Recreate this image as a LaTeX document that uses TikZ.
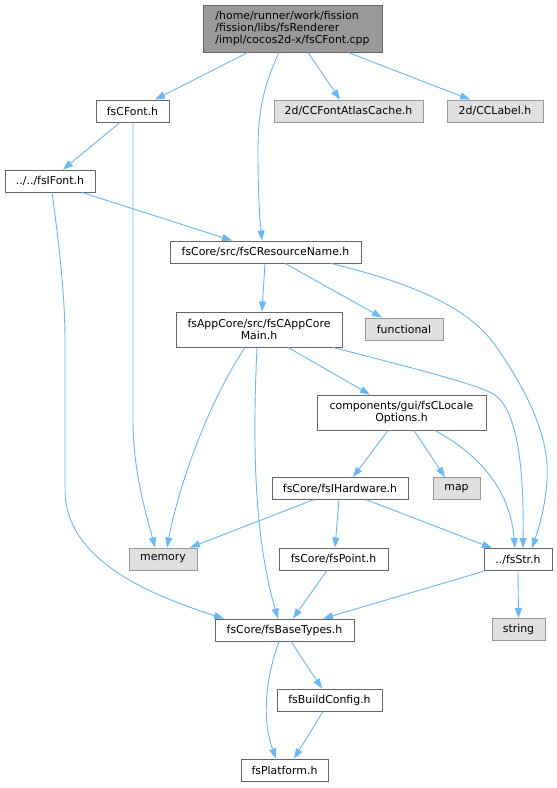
\documentclass[tikz,border=0pt]{standalone}
\usepackage{fontspec}
\setmainfont{DejaVu Sans}
\usetikzlibrary{arrows.meta}
\definecolor{edgeblue}{HTML}{63B8FF}
\definecolor{boxborder}{HTML}{666666}
\definecolor{sysborder}{HTML}{999999}
\definecolor{sysfill}{HTML}{E0E0E0}
\definecolor{rootfill}{HTML}{999999}
\tikzset{
  filebox/.style={draw=boxborder, fill=white, line width=0.9pt, inner sep=0pt,
    minimum height=22pt, align=center, font=\fontsize{10.9}{12}\selectfont},
  sysbox/.style={filebox, draw=sysborder, fill=sysfill},
  rootbox/.style={filebox, fill=rootfill, align=left},
  edge/.style={draw=edgeblue, line width=0.9pt, -{Triangle[length=10pt,width=7pt]}}
}
\begin{document}
\begin{tikzpicture}[x=1pt,y=-1pt]
\useasboundingbox (0,0) rectangle (557,788);
% nodes
\node[rootbox, minimum width=179pt, minimum height=47pt] (root) at (292.5,28.5)
  {/home/runner/work/fission\\/fission/libs/fsRenderer\\/impl/cocos2d-x/fsCFont.cpp};
\node[filebox, minimum width=73pt] (cfont) at (132.5,111) {fsCFont.h};
\node[sysbox, minimum width=149pt] (atlas) at (348.5,111) {2d/CCFontAtlasCache.h};
\node[sysbox, minimum width=96pt] (label) at (495,111) {2d/CCLabel.h};
\node[filebox, minimum width=90pt] (ifont) at (50,181) {../../fsIFont.h};
\node[filebox, minimum width=191pt] (resname) at (265.5,252) {fsCore/src/fsCResourceName.h};
\node[filebox, minimum width=166pt, minimum height=35pt] (appcore) at (259,329.5) {fsAppCore/src/fsCAppCore\\Main.h};
\node[sysbox, minimum width=78pt] (functional) at (404,329) {functional};
\node[filebox, minimum width=169pt, minimum height=35pt] (locale) at (401.5,412.5) {components/gui/fsCLocale\\Options.h};
\node[filebox, minimum width=136pt] (hardware) at (340,488.5) {fsCore/fsIHardware.h};
\node[sysbox, minimum width=47pt] (map) at (456.5,488.5) {map};
\node[sysbox, minimum width=68pt] (memory) at (163,559) {memory};
\node[filebox, minimum width=109pt] (point) at (333.5,559) {fsCore/fsPoint.h};
\node[filebox, minimum width=68pt] (str) at (518,559.5) {../fsStr.h};
\node[sysbox, minimum width=53pt] (string) at (518.5,629.5) {string};
\node[filebox, minimum width=139pt] (basetypes) at (284.5,630) {fsCore/fsBaseTypes.h};
\node[filebox, minimum width=105pt] (buildconfig) at (329.5,700) {fsBuildConfig.h};
\node[filebox, minimum width=87pt] (platform) at (284.5,770) {fsPlatform.h};
% edges
\draw[edge] ([xshift=-44.5pt]root.south) -- ([xshift=22.5pt]cfont.north);
\draw[edge] ([xshift=-13.5pt]root.south) .. controls (264,85) and (258,110) .. (258,150)
  .. controls (258,200) and (260,220) .. ([xshift=-3.5pt]resname.north);
\draw[edge] ([xshift=15.5pt]root.south) -- ([xshift=-8.5pt]atlas.north);
\draw[edge] ([xshift=55.5pt]root.south) -- ([xshift=-25pt]label.north);
\draw[edge] ([xshift=-12.5pt]cfont.south) -- ([xshift=13pt]ifont.north);
\draw[edge] ([xshift=0.5pt]cfont.south) -- (133,420) .. controls (133,470) and (145,510) .. ([xshift=-8pt]memory.north);
\draw[edge] ([xshift=32pt]ifont.south) -- ([xshift=-33.5pt]resname.north);
\draw[edge] ([xshift=2pt]ifont.south) .. controls (60,250) and (65,300) .. (65,340) -- (65,490)
  .. controls (65,560) and (150,595) .. ([xshift=-60.5pt]basetypes.north);
\draw[edge] ([xshift=-0.5pt]resname.south) -- ([xshift=3pt]appcore.north);
\draw[edge] ([xshift=19.5pt]resname.south) -- ([xshift=-22pt]functional.north);
\draw[edge] ([xshift=65.5pt]resname.south) .. controls (420,285) and (470,310) .. (495,345)
  .. controls (530,395) and (550,440) .. (547,480) .. controls (545,510) and (538,530) .. ([xshift=14pt]str.north);
\draw[edge] ([xshift=-14pt]appcore.south) .. controls (210,400) and (180,480) .. ([xshift=4pt]memory.north);
\draw[edge] ([xshift=-2pt]appcore.south) .. controls (252,450) and (255,540) .. ([xshift=-6.5pt]basetypes.north);
\draw[edge] ([xshift=29pt]appcore.south) -- ([xshift=-31.5pt]locale.north);
\draw[edge] ([xshift=74pt]appcore.south) .. controls (420,370) and (480,385) .. (495,395)
  .. controls (518,412) and (524,470) .. ([xshift=5pt]str.north);
\draw[edge] ([xshift=-13.5pt]locale.south) -- ([xshift=13pt]hardware.north);
\draw[edge] ([xshift=12.5pt]locale.south) -- ([xshift=-11.5pt]map.north);
\draw[edge] ([xshift=33.5pt]locale.south) .. controls (480,455) and (510,490) .. ([xshift=-3pt]str.north);
\draw[edge] ([xshift=-27pt]hardware.south) -- ([xshift=27pt]memory.north);
\draw[edge] ([xshift=-1pt]hardware.south) -- ([xshift=1.5pt]point.north);
\draw[edge] ([xshift=27pt]hardware.south) -- ([xshift=-26pt]str.north);
\draw[edge] ([xshift=-6.5pt]point.south) -- ([xshift=8.5pt]basetypes.north);
\draw[edge] ([xshift=-33pt]str.south) -- ([xshift=38.5pt]basetypes.north);
\draw[edge] (str.south) -- (string.north);
\draw[edge] ([xshift=6.5pt]basetypes.south) -- ([xshift=-7.5pt]buildconfig.north);
\draw[edge] ([xshift=-5.5pt]basetypes.south) .. controls (265,680) and (262,720) .. ([xshift=-8.5pt]platform.north);
\draw[edge] ([xshift=-6.5pt]buildconfig.south) -- ([xshift=9.5pt]platform.north);
\end{tikzpicture}
\end{document}
